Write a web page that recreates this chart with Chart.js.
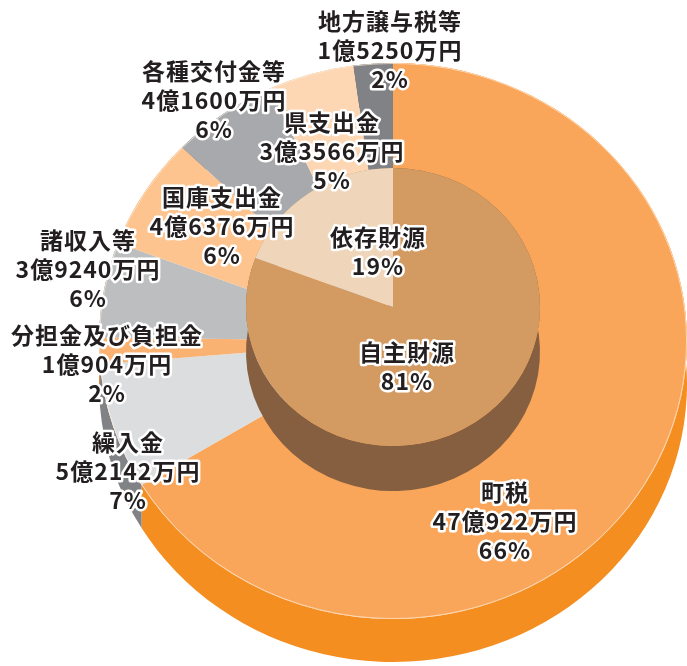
<!DOCTYPE html>
<html lang="ja">
<head>
<meta charset="utf-8">
<title>歳入の内訳</title>
<script src="https://cdn.jsdelivr.net/npm/chart.js@4.4.1/dist/chart.umd.min.js"></script>
<style>
    html, body { margin: 0; padding: 0; background: #fff; }
    #grafico { display: block; }
</style>
</head>
<body>
<canvas id="grafico" width="687" height="666"></canvas>
<script>
// ============================================
// DADOS (valores em 万円)
// ============================================
const categoriasExternas = ['町税', '繰入金', '分担金及び負担金', '諸収入等', '国庫支出金', '各種交付金等', '県支出金', '地方譲与税等'];
const valoresExternos = [470922, 52142, 10904, 39240, 46376, 41600, 33566, 15250];
const percentExternos = [66, 7, 2, 6, 6, 6, 5, 2];

const categoriasInternas = ['自主財源', '依存財源'];
const valoresInternos = [573208, 136792];
const percentInternos = [81, 19];

// Cores (face superior / lateral)
const coresExternas = ['#F9A55A', '#DCDDDF', '#FAB273', '#BCBEC0', '#FDC48F', '#A7A9AC', '#FDD7B4', '#808285'];
const ladosExternos = ['#F48E20', '#808285', '#E8893A', '#8A8C8F', '#D9995C', '#76787B', '#D8A678', '#5E6063'];
const coresInternas = ['#D39B62', '#EFD6BA'];
const ladosInternos = ['#855F40', '#A88B6C'];

// Posição dos rótulos (deslocamento a partir do centro do gráfico)
const posExternos = [[112, 151], [-265, 101], [-286, -6], [-305, -101], [-171, -144], [-179, -270], [-61, -219], [-3, -320]];
const posInternos = [[14, 11], [-15, -104]];

// Aspeto 3D
const ESCALA_Y = 0.9456;
const PROFUNDIDADE = {
    externo: { elevacao: 0, altura: 43 },
    interno: { elevacao: -34, altura: 45 }
};
const FONTE = 'bold 23px "Noto Sans CJK JP", "Noto Sans", sans-serif';
const ENTRELINHA = 29;

// ============================================
// PLUGINS
// ============================================
const efeito3D = {
    id: 'efeito3D',
    beforeDatasetDraw(chart, args) {
        const ctx = chart.ctx;
        const arcos = args.meta.data;
        const externo = args.index === 0;
        const cfg = externo ? PROFUNDIDADE.externo : PROFUNDIDADE.interno;
        const lados = externo ? ladosExternos : ladosInternos;
        const cx = arcos[0].x, cy = arcos[0].y;

        // o anel exterior fica cheio por baixo do bolo interior
        if (externo) arcos.forEach(a => { a.innerRadius = 0; });

        ctx.save();
        ctx.translate(cx, cy + cfg.elevacao);
        ctx.scale(1, ESCALA_Y);
        ctx.translate(-cx, -cy);

        // parede lateral de cada fatia
        const d = cfg.altura / ESCALA_Y;
        arcos.forEach((arco, i) => {
            const p = arco.getProps(['x', 'y', 'startAngle', 'endAngle', 'outerRadius']);
            ctx.beginPath();
            ctx.arc(p.x, p.y, p.outerRadius, p.startAngle, p.endAngle);
            ctx.arc(p.x, p.y + d, p.outerRadius, p.endAngle, p.startAngle, true);
            ctx.closePath();
            ctx.fillStyle = lados[i];
            ctx.fill();
        });
    },
    afterDatasetDraw(chart, args) {
        const ctx = chart.ctx;
        if (args.index === 0) {
            // brilho fino na aresta
            args.meta.data.forEach(arco => {
                const p = arco.getProps(['x', 'y', 'startAngle', 'endAngle', 'outerRadius']);
                ctx.beginPath();
                ctx.arc(p.x, p.y, p.outerRadius - 0.5, p.startAngle, p.endAngle);
                ctx.strokeStyle = 'rgba(255, 236, 214, 0.7)';
                ctx.lineWidth = 1;
                ctx.stroke();
            });
        }
        ctx.restore();
    }
};

function formatarValor(v) {
    const oku = Math.floor(v / 10000);
    const man = v % 10000;
    return `${oku}億${man > 0 ? man + '万' : ''}円`;
}

const rotulos = {
    id: 'rotulos',
    afterDraw(chart) {
        const ctx = chart.ctx;
        const centro = chart.getDatasetMeta(0).data[0];
        const escrever = (linhas, pos) => {
            linhas.forEach((txt, k) => {
                const x = centro.x + pos[0];
                const y = centro.y + pos[1] + k * ENTRELINHA;
                ctx.strokeText(txt, x, y);
                ctx.fillText(txt, x, y);
            });
        };

        ctx.save();
        ctx.font = FONTE;
        ctx.letterSpacing = '1px';
        ctx.textAlign = 'center';
        ctx.textBaseline = 'middle';
        ctx.lineJoin = 'round';
        ctx.lineWidth = 5;
        ctx.strokeStyle = '#FFFFFF';
        ctx.fillStyle = '#231F20';

        categoriasExternas.forEach((nome, i) => {
            escrever([nome, formatarValor(valoresExternos[i]), percentExternos[i] + '%'], posExternos[i]);
        });
        categoriasInternas.forEach((nome, i) => {
            escrever([nome, percentInternos[i] + '%'], posInternos[i]);
        });
        ctx.restore();
    }
};

// ============================================
// GRÁFICO
// ============================================
new Chart(document.getElementById('grafico'), {
    type: 'pie',
    data: {
        labels: categoriasExternas,
        datasets: [{
            label: '歳入',
            data: valoresExternos,
            backgroundColor: coresExternas,
            borderWidth: 0,
            order: 1
        }, {
            label: '財源',
            data: valoresInternos,
            backgroundColor: coresInternas,
            borderWidth: 0,
            order: 0
        }]
    },
    options: {
        responsive: false,
        animation: false,
        events: [],
        layout: { padding: { left: 99, right: 0, top: 47, bottom: 31 } },
        plugins: {
            legend: { display: false },
            tooltip: { enabled: false }
        }
    },
    plugins: [efeito3D, rotulos]
});
</script>
</body>
</html>
